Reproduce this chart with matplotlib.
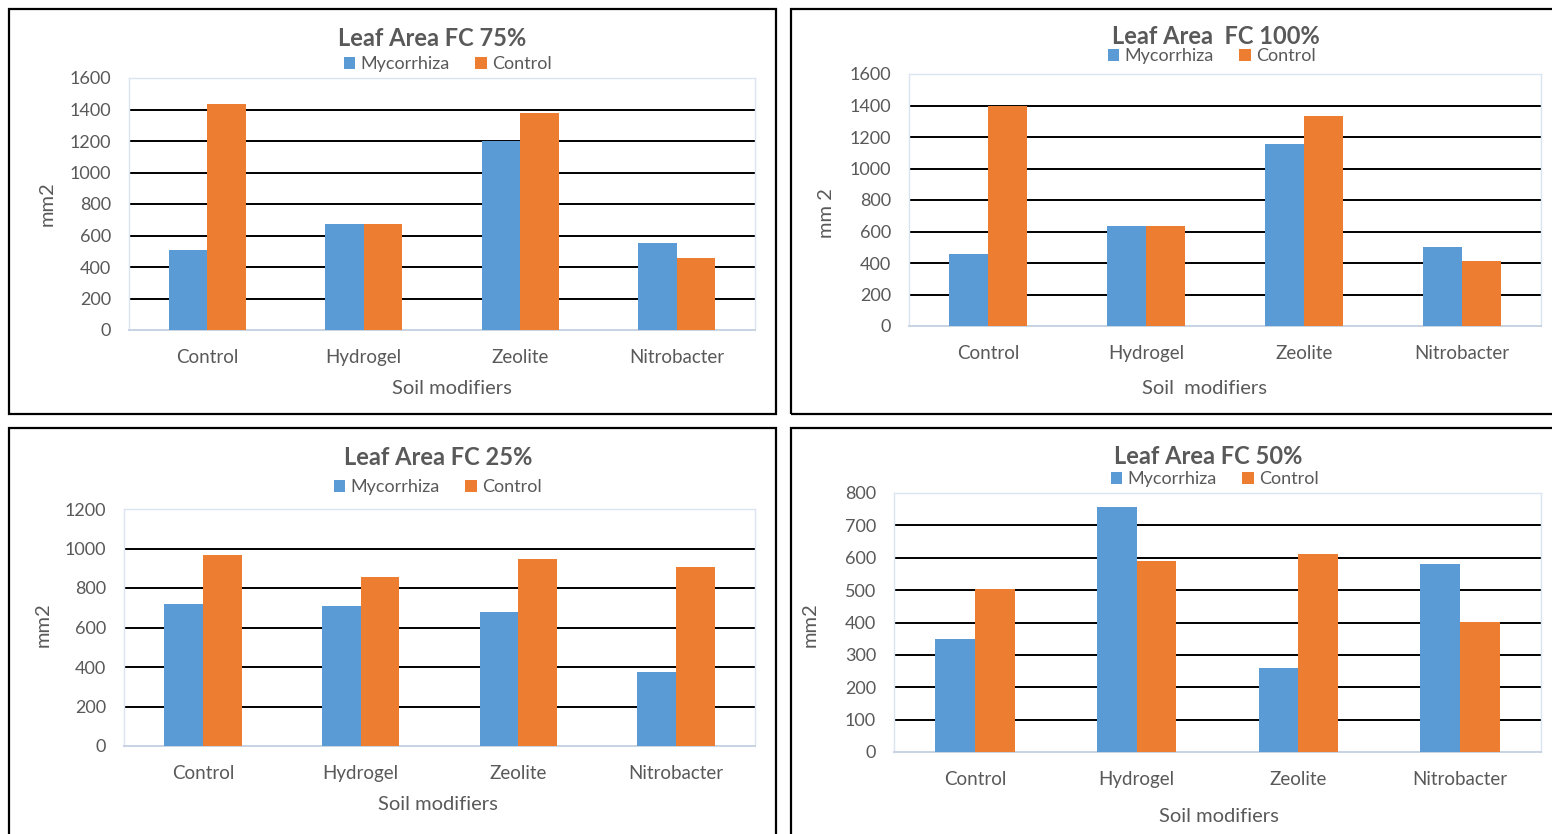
import matplotlib

matplotlib.use("Agg")
import matplotlib.pyplot as plt
from matplotlib.patches import Rectangle
import numpy as np

plt.rcParams["font.family"] = ["Lato", "DejaVu Sans"]

W, H = 1552, 834

categories = ["Control", "Hydrogel", "Zeolite", "Nitrobacter"]
series_names = ["Mycorrhiza", "Control"]

# leaf area (mm2) per soil modifier
fc75_myco = [505, 675, 1200, 550]
fc75_ctrl = [1435, 675, 1375, 455]

fc100_myco = [460, 635, 1155, 500]
fc100_ctrl = [1400, 635, 1335, 415]

fc25_myco = [720, 710, 680, 375]
fc25_ctrl = [965, 858, 945, 905]

fc50_myco = [348, 756, 259, 582]
fc50_ctrl = [503, 589, 612, 402]

BLUE = "#5b9bd5"
ORANGE = "#ed7d31"
GREY = "#595959"


def fx(px):
    return px / W


def fy(py):
    return 1 - py / H


def panel(fig, frame, plot_box, title, title_xy, legend_xy, xlabel, xlabel_xy,
          ylabel, ylabel_xy, myco, ctrl, ymax, ystep):
    # black frame around the chart
    x0, y0, x1, y1 = frame
    fig.patches.append(
        Rectangle((fx(x0), fy(y1)), fx(x1 - x0), (y1 - y0) / H,
                  transform=fig.transFigure, fill=False,
                  edgecolor="black", linewidth=1.6)
    )

    l, t, r, b = plot_box
    ax = fig.add_axes([fx(l), fy(b), fx(r - l), (b - t) / H])

    x = np.arange(len(categories))
    w = 0.245
    ax.bar(x - w / 2, myco, width=w, color=BLUE, label=series_names[0], zorder=3)
    ax.bar(x + w / 2, ctrl, width=w, color=ORANGE, label=series_names[1], zorder=3)

    ax.set_xlim(-0.5, len(categories) - 0.5)
    ax.set_ylim(0, ymax)
    ticks = np.arange(0, ymax + 1, ystep)
    ax.set_yticks(ticks)
    for v in ticks[1:-1]:
        ax.axhline(v, color="black", linewidth=1.4, zorder=1)

    ax.set_xticks(x)
    ax.set_xticklabels(categories)
    ax.tick_params(axis="both", length=0, labelsize=13, labelcolor=GREY)
    ax.tick_params(axis="x", pad=14, labelsize=13.5)
    ax.tick_params(axis="y", pad=13)

    for s in ax.spines.values():
        s.set_color("#dbe4f1")
        s.set_linewidth(1.0)
    ax.spines["bottom"].set_color("#c8d3e3")
    ax.spines["bottom"].set_linewidth(1.4)

    fig.text(fx(title_xy[0]), fy(title_xy[1]), title, ha="center", va="center",
             fontsize=17, fontweight="bold", color=GREY)
    fig.text(fx(xlabel_xy[0]), fy(xlabel_xy[1]), xlabel, ha="center", va="center",
             fontsize=14.5, color=GREY)
    fig.text(fx(ylabel_xy[0]), fy(ylabel_xy[1]), ylabel, ha="center", va="center",
             fontsize=14.5, color=GREY, rotation=90)

    fig.legend(
        handles=ax.containers,
        labels=series_names,
        loc="center",
        bbox_to_anchor=(fx(legend_xy[0]), fy(legend_xy[1])),
        ncol=2,
        frameon=False,
        fontsize=13,
        labelcolor=GREY,
        handlelength=0.65,
        handleheight=0.65,
        handletextpad=0.3,
        columnspacing=1.4,
    )
    return ax


fig = plt.figure(figsize=(W / 100, H / 100), dpi=100)

panel(fig, (9, 9, 776, 414), (129, 78, 755, 330),
      "Leaf Area FC 75%", (432, 38), (448, 64),
      "Soil modifiers", (452, 388), "mm2", (47, 204),
      fc75_myco, fc75_ctrl, 1600, 200)

panel(fig, (791, 9, 1562, 414), (909, 74, 1541, 326),
      "Leaf Area  FC 100%", (1216, 36), (1212, 56),
      "Soil  modifiers", (1205, 388), "mm 2", (826, 213),
      fc100_myco, fc100_ctrl, 1600, 200)

panel(fig, (9, 428, 776, 845), (124, 509, 755, 746),
      "Leaf Area FC 25%", (438, 457), (438, 487),
      "Soil modifiers", (438, 805), "mm2", (43, 625),
      fc25_myco, fc25_ctrl, 1200, 200)

panel(fig, (791, 428, 1562, 845), (894, 493, 1541, 752),
      "Leaf Area FC 50%", (1208, 456), (1215, 479),
      "Soil modifiers", (1219, 817), "mm2", (810, 625),
      fc50_myco, fc50_ctrl, 800, 100)

plt.savefig("out.png", dpi=100)
plt.close()
